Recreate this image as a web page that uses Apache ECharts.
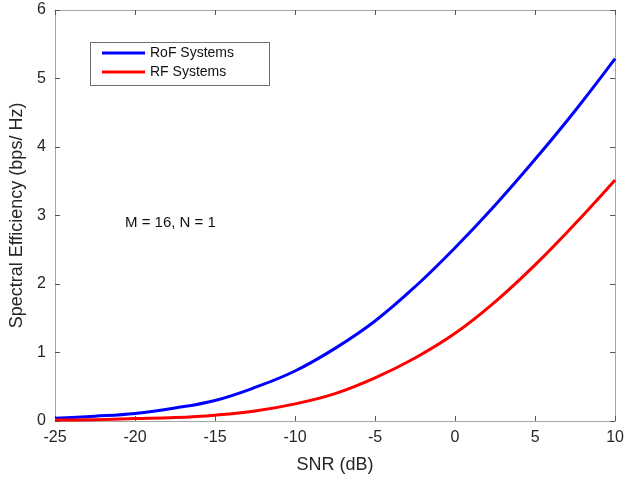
<!DOCTYPE html>
<html>
<head>
<meta charset="utf-8">
<script src="https://cdn.jsdelivr.net/npm/echarts@6/dist/echarts.min.js"></script>
<style>
html,body{margin:0;padding:0;background:#fff;}
#chart{width:627px;height:485px;}
</style>
</head>
<body>
<div id="chart"></div>
<script>
// SNR values (dB)
const snr = [-25, -22.5, -20, -17.5, -15, -12.5, -10, -7.5, -5, -2.5, 0, 2.5, 5, 7.5, 10];
// Spectral efficiency values
const rofSystems = [0.04, 0.07, 0.11, 0.19, 0.30, 0.49, 0.73, 1.06, 1.46, 1.96, 2.53, 3.15, 3.82, 4.53, 5.29];
const rfSystems  = [0.015, 0.02, 0.035, 0.05, 0.085, 0.145, 0.25, 0.40, 0.63, 0.92, 1.28, 1.74, 2.28, 2.88, 3.52];
const xTicks = [-25, -20, -15, -10, -5, 0, 5, 10];
const yTicks = [0, 1, 2, 3, 4, 5, 6];
const seriesNames = ['RoF Systems', 'RF Systems'];
const annotation = 'M = 16, N = 1';

const font = 'Liberation Sans, Arial, sans-serif';
const axisGray = '#a6a6a6';
const labelColor = '#262626';

const chart = echarts.init(document.getElementById('chart'), null, {renderer: 'canvas'});
const pair = (xs, ys) => xs.map((x, i) => [x, ys[i]]);

const baseX = {
  type: 'value', min: xTicks[0], max: xTicks[xTicks.length - 1], interval: 5,
  splitLine: {show: false},
  axisLine: {show: true, onZero: false, lineStyle: {color: axisGray, width: 1}},
  axisTick: {show: true, inside: true, length: 5, lineStyle: {color: '#555'}}
};
const baseY = {
  type: 'value', min: yTicks[0], max: yTicks[yTicks.length - 1], interval: 1,
  splitLine: {show: false},
  axisLine: {show: true, onZero: false, lineStyle: {color: axisGray, width: 1}},
  axisTick: {show: true, inside: true, length: 5, lineStyle: {color: '#555'}}
};

chart.setOption({
  animation: false,
  backgroundColor: '#fff',
  grid: {left: 55, right: 11, top: 10, bottom: 64, containLabel: false},
  xAxis: [
    Object.assign({}, baseX, {
      position: 'bottom',
      name: 'SNR (dB)', nameLocation: 'middle', nameGap: 35,
      nameTextStyle: {fontFamily: font, fontSize: 18, color: labelColor},
      axisLabel: {fontFamily: font, fontSize: 16, color: labelColor, margin: 9}
    }),
    Object.assign({}, baseX, {position: 'top', axisLabel: {show: false}})
  ],
  yAxis: [
    Object.assign({}, baseY, {
      position: 'left',
      name: 'Spectral Efficiency (bps/ Hz)', nameLocation: 'middle', nameGap: 28,
      nameTextStyle: {fontFamily: font, fontSize: 18, color: labelColor},
      axisLabel: {fontFamily: font, fontSize: 16, color: labelColor, margin: 9}
    }),
    Object.assign({}, baseY, {position: 'right', axisLabel: {show: false}})
  ],
  legend: {
    orient: 'vertical', left: 102, top: 45, padding: 0,
    itemWidth: 43, itemHeight: 3, itemGap: 3, icon: 'rect',
    textStyle: {fontFamily: font, fontSize: 14, color: '#111', lineHeight: 16},
    data: seriesNames
  },
  graphic: [
    {type: 'rect', left: 88, top: 40, shape: {width: 179, height: 43},
     style: {fill: 'none', stroke: '#6e6e6e', lineWidth: 1}, z: 0},
    {type: 'text', left: 125, top: 215,
     style: {text: annotation, font: '15px ' + font, fill: '#111'}}
  ],
  series: [
    {name: seriesNames[0], type: 'line', data: pair(snr, rofSystems), smooth: 0.4,
     showSymbol: false, lineStyle: {color: '#0000ff', width: 3}, itemStyle: {color: '#0000ff'}},
    {name: seriesNames[1], type: 'line', data: pair(snr, rfSystems), smooth: 0.4,
     showSymbol: false, lineStyle: {color: '#ff0000', width: 3}, itemStyle: {color: '#ff0000'}}
  ]
});
</script>
</body>
</html>
